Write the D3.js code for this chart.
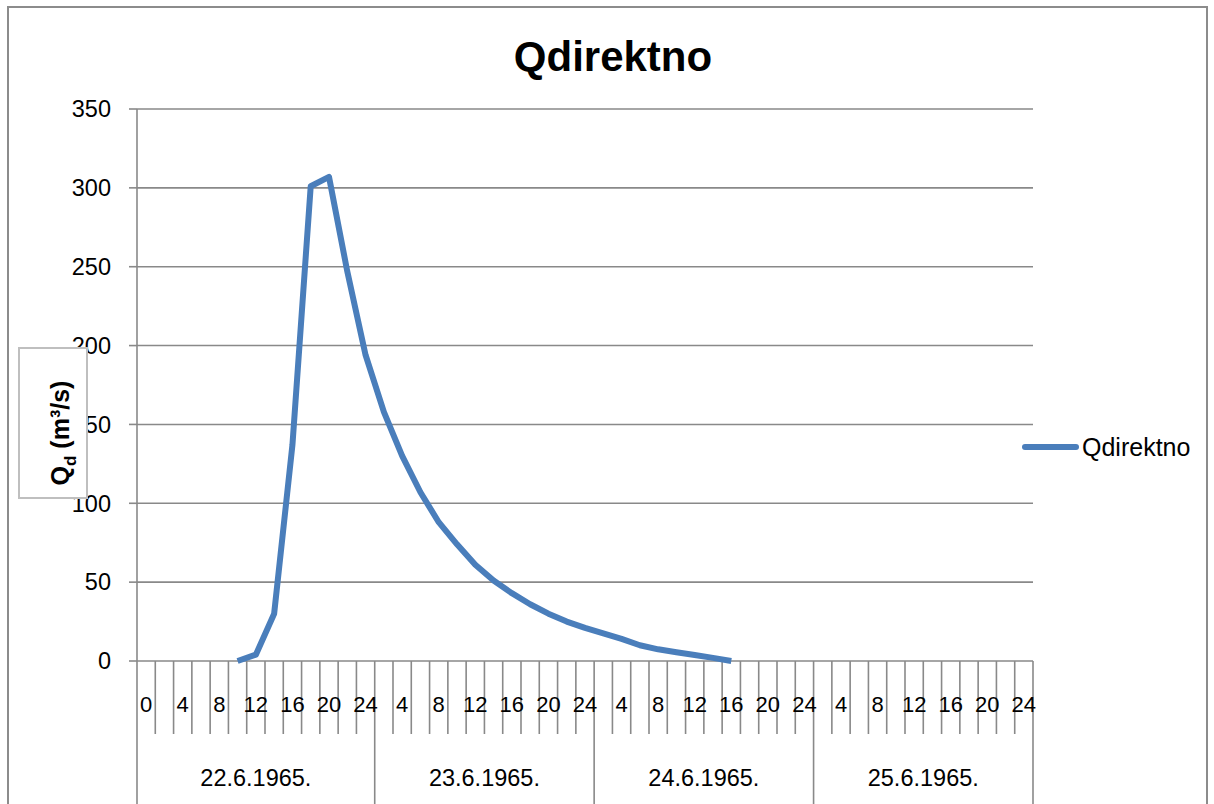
<!DOCTYPE html>
<html>
<head>
<meta charset="utf-8">
<script src="https://cdn.jsdelivr.net/npm/d3@7"></script>
<style>
  html, body { margin: 0; padding: 0; background: #ffffff; }
  svg { display: block; }
  text { font-family: "Liberation Sans", Arial, sans-serif; fill: #000; }
</style>
</head>
<body>
<svg id="chart" width="1214" height="804"></svg>
<script>
// ---------------- DATA ----------------
const title = "Qdirektno";
const seriesName = "Qdirektno";
const days = ["22.6.1965.", "23.6.1965.", "24.6.1965.", "25.6.1965."];
const hoursFirstDay = [0, 2, 4, 6, 8, 10, 12, 14, 16, 18, 20, 22, 24];
const hoursOtherDays = [2, 4, 6, 8, 10, 12, 14, 16, 18, 20, 22, 24];
const day1Values = [null, null, null, null, null, 0, 4, 30, 137, 301, 307, 247, 194];
const day2Values = [158, 130, 107, 88, 74, 61, 51, 43, 36, 30, 25, 21];
const day3Values = [17.5, 14, 10, 7.4, 5.5, 3.8, 2, 0, null, null, null, null];
const day4Values = [null, null, null, null, null, null, null, null, null, null, null, null];
const yTicks = [0, 50, 100, 150, 200, 250, 300, 350];

// ---------------- BUILD CATEGORIES ----------------
const dayValues = [day1Values, day2Values, day3Values, day4Values];
const categories = [];
days.forEach((d, di) => {
  const hrs = di === 0 ? hoursFirstDay : hoursOtherDays;
  hrs.forEach((h, hi) => {
    categories.push({ day: d, dayIndex: di, hour: h, value: dayValues[di][hi] });
  });
});
categories.forEach((c, i) => c.index = i);

// ---------------- LAYOUT ----------------
const svg = d3.select("#chart");
const plotLeft = 137, plotRight = 1033, plotTop = 109, plotBottom = 661;
const gridColor = "#898989";
const lineColor = "#4a7ebb";

const x = d3.scaleBand().domain(categories.map(c => c.index)).range([plotLeft, plotRight]).padding(0);
const y = d3.scaleLinear().domain([0, 350]).range([plotBottom, plotTop]);
const bw = x.bandwidth();

// outer chart border
svg.append("rect")
  .attr("x", 8).attr("y", 7).attr("width", 1199).attr("height", 830)
  .attr("fill", "none").attr("stroke", "#8c8c8c").attr("stroke-width", 2);

// title
svg.append("text")
  .attr("x", 613).attr("y", 71)
  .attr("text-anchor", "middle")
  .style("font-size", "42px").style("font-weight", "bold")
  .text(title);

// gridlines
svg.append("g").selectAll("line").data(yTicks).join("line")
  .attr("x1", plotLeft).attr("x2", plotRight)
  .attr("y1", d => y(d)).attr("y2", d => y(d))
  .attr("stroke", gridColor).attr("stroke-width", 1.6);

// y axis line + ticks
svg.append("line")
  .attr("x1", plotLeft).attr("x2", plotLeft)
  .attr("y1", y(350)).attr("y2", y(0))
  .attr("stroke", gridColor).attr("stroke-width", 1.6);
svg.append("g").selectAll("line").data(yTicks).join("line")
  .attr("x1", plotLeft - 8).attr("x2", plotLeft)
  .attr("y1", d => y(d)).attr("y2", d => y(d))
  .attr("stroke", gridColor).attr("stroke-width", 1.6);

// y tick labels
svg.append("g").selectAll("text").data(yTicks).join("text")
  .attr("x", 111).attr("y", d => y(d))
  .attr("dy", "0.35em")
  .attr("text-anchor", "end")
  .style("font-size", "23.5px")
  .text(d => d);

// category tick lines (boundaries)
const boundaries = d3.range(categories.length + 1);
const dayStarts = new Set();
{
  let acc = 0;
  dayStarts.add(0);
  days.forEach((d, di) => {
    acc += (di === 0 ? hoursFirstDay.length : hoursOtherDays.length);
    dayStarts.add(acc);
  });
}
svg.append("g").selectAll("line").data(boundaries).join("line")
  .attr("x1", k => plotLeft + k * bw).attr("x2", k => plotLeft + k * bw)
  .attr("y1", plotBottom)
  .attr("y2", k => dayStarts.has(k) ? 820 : 734)
  .attr("stroke", gridColor).attr("stroke-width", 1.6);

// hour labels (every other category)
svg.append("g").selectAll("text").data(categories.filter(c => c.index % 2 === 0)).join("text")
  .attr("x", c => x(c.index) + bw / 2)
  .attr("y", 704)
  .attr("dy", "0.35em")
  .attr("text-anchor", "middle")
  .style("font-size", "22px")
  .text(c => c.hour);

// day labels
const dayGroups = days.map((d, di) => {
  const cs = categories.filter(c => c.dayIndex === di);
  return { day: d, x0: x(cs[0].index), x1: x(cs[cs.length - 1].index) + bw };
});
svg.append("g").selectAll("text").data(dayGroups).join("text")
  .attr("x", g => (g.x0 + g.x1) / 2)
  .attr("y", 778)
  .attr("dy", "0.35em")
  .attr("text-anchor", "middle")
  .style("font-size", "23.5px")
  .text(g => g.day);

// series line
const line = d3.line()
  .defined(c => c.value !== null)
  .x(c => x(c.index) + bw / 2)
  .y(c => y(c.value));
svg.append("path")
  .datum(categories)
  .attr("d", line)
  .attr("fill", "none")
  .attr("stroke", lineColor)
  .attr("stroke-width", 6)
  .attr("stroke-linejoin", "round")
  .attr("stroke-linecap", "butt");

// y axis title box (drawn over labels)
svg.append("rect")
  .attr("x", 19).attr("y", 348).attr("width", 68).attr("height", 150)
  .attr("fill", "#ffffff").attr("stroke", "#bfbfbf").attr("stroke-width", 2);
const yTitle = svg.append("text")
  .attr("transform", "translate(69,433) rotate(-90)")
  .attr("text-anchor", "middle")
  .style("font-size", "25px").style("font-weight", "bold");
yTitle.append("tspan").text("Q");
yTitle.append("tspan").attr("dy", 7).style("font-size", "17px").text("d");
yTitle.append("tspan").attr("dy", -7).text(" (m\u00B3/s)");

// legend
svg.append("line")
  .attr("x1", 1025).attr("x2", 1076).attr("y1", 447).attr("y2", 447)
  .attr("stroke", lineColor).attr("stroke-width", 6).attr("stroke-linecap", "round");
svg.append("text")
  .attr("x", 1082).attr("y", 447).attr("dy", "0.35em")
  .style("font-size", "25px")
  .text(seriesName);
</script>
</body>
</html>
